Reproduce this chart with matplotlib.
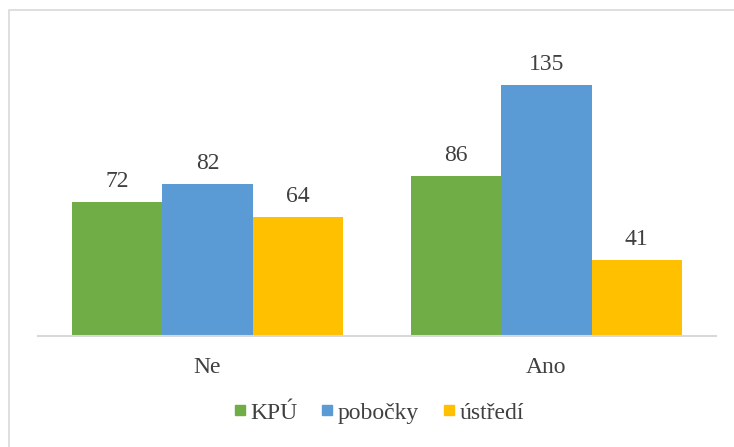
import numpy as np
import matplotlib
matplotlib.use('Agg')
import matplotlib.pyplot as plt
from matplotlib.lines import Line2D
from matplotlib.patches import Rectangle

# Odpovědi podle typu pracoviště
categories = ['Ne', 'Ano']
series_names = ['KPÚ', 'pobočky', 'ústředí']
kpu = [72, 86]
pobocky = [82, 135]
ustredi = [64, 41]

colors = ['#70AD47', '#5B9BD5', '#FFC000']
text_color = '#404040'
grid_color = '#D9D9D9'

plt.rcParams['font.family'] = 'serif'
plt.rcParams['font.serif'] = ['Liberation Serif', 'Times New Roman', 'DejaVu Serif']

fig = plt.figure(figsize=(7.34, 4.47), dpi=100)
fig.patch.set_facecolor('white')

# Rámeček grafu (pravá a spodní hrana jsou mimo obrázek)
fig.patches.append(Rectangle((9 / 734, -0.1), 1.2, 1 - 10 / 447 + 0.1,
                             transform=fig.transFigure, fill=False,
                             edgecolor=grid_color, linewidth=1.2))

ax = fig.add_axes([38 / 734, 111 / 447, 678 / 734, 297.4 / 447])

x = np.arange(len(categories))
width = 0.266
values = [kpu, pobocky, ustredi]
for i, (vals, name) in enumerate(zip(values, series_names)):
    pos = x + (i - 1) * width
    bars = ax.bar(pos, vals, width, color=colors[i], label=name, zorder=2)
    for b, v in zip(bars, vals):
        ax.annotate(str(v), (b.get_x() + b.get_width() / 2, v),
                    xytext=(0, 7), textcoords='offset points',
                    ha='center', va='bottom', fontsize=17, color=text_color)

ax.set_xlim(-0.5, 1.5)
ax.set_ylim(0, 160)
ax.set_yticks([])
ax.set_xticks(x)
ax.set_xticklabels(categories, fontsize=17, color=text_color)
ax.tick_params(axis='x', length=0, pad=15)
for side in ['top', 'right', 'left']:
    ax.spines[side].set_visible(False)
ax.spines['bottom'].set_color(grid_color)
ax.spines['bottom'].set_linewidth(1.5)
ax.set_facecolor('none')

handles = [Line2D([], [], marker='s', linestyle='none', markersize=7.5,
                  markerfacecolor=c, markeredgecolor=c) for c in colors]
fig.legend(handles, series_names, loc='center', ncol=3,
           bbox_to_anchor=(377 / 734, 1 - 413 / 447), frameon=False,
           fontsize=17, handletextpad=0.05, columnspacing=0.85,
           labelcolor=text_color, handlelength=0.8)

fig.savefig('out.png', dpi=100)
